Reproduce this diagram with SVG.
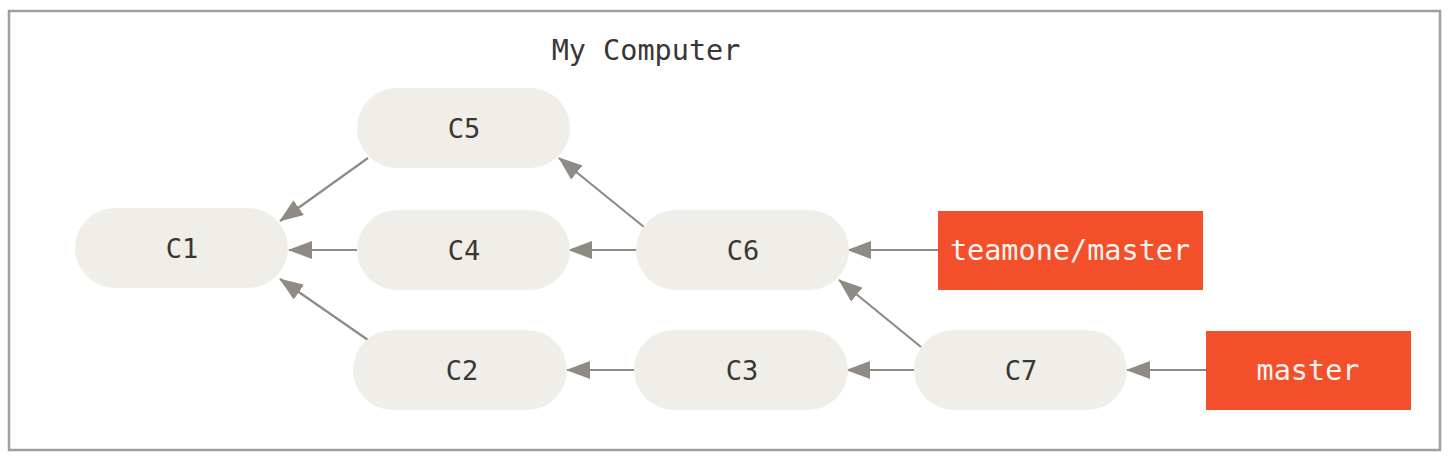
<svg xmlns="http://www.w3.org/2000/svg" width="1452" height="460" viewBox="0 0 1452 460">
<style>
.frame{fill:#ffffff;stroke:#a39e97;stroke-width:2.5}
.commit{fill:#efeee8}
.branch{fill:#f34f2b}
.t{font-family:"DejaVu Sans Mono","Liberation Mono",monospace;font-size:27px;text-anchor:middle;dominant-baseline:central}
.ct{fill:#3a3633}
.bt{fill:#f7f4ef;font-size:28.5px}
.title{font-family:"DejaVu Sans Mono","Liberation Mono",monospace;font-size:28.5px;fill:#3a3633;text-anchor:middle}
.edge{stroke:#8f8a84;stroke-width:2.2;fill:none;marker-end:url(#ah)}
</style>
<defs>
<marker id="ah" markerUnits="userSpaceOnUse" markerWidth="24" markerHeight="18" viewBox="0 0 24 18" refX="23" refY="9" orient="auto">
<path d="M0,0 L24,9 L0,18 z" fill="#8f8a84"/>
</marker>
</defs>
<rect class="frame" x="9" y="11" width="1431" height="439"/>
<text class="title" x="646" y="60">My Computer</text>
<g id="connectors">
<line class="edge" x1="368" y1="158" x2="280" y2="221"/>
<line class="edge" x1="357" y1="250" x2="289" y2="250"/>
<line class="edge" x1="368" y1="340" x2="280" y2="279"/>
<line class="edge" x1="644" y1="227" x2="559" y2="158"/>
<line class="edge" x1="636" y1="250" x2="569" y2="250"/>
<line class="edge" x1="938" y1="250" x2="848" y2="250"/>
<line class="edge" x1="921" y1="347" x2="839" y2="280"/>
<line class="edge" x1="634" y1="370" x2="567" y2="370"/>
<line class="edge" x1="914" y1="370" x2="847" y2="370"/>
<line class="edge" x1="1206" y1="370" x2="1127" y2="370"/>
</g>
<g id="C1"><rect class="commit" x="75" y="208" width="213" height="80" rx="40"/><text class="t ct" x="182" y="248">C1</text></g>
<g id="C5"><rect class="commit" x="357" y="88" width="213" height="80" rx="40"/><text class="t ct" x="464" y="128">C5</text></g>
<g id="C4"><rect class="commit" x="357" y="210" width="213" height="80" rx="40"/><text class="t ct" x="464" y="250">C4</text></g>
<g id="C6"><rect class="commit" x="636" y="210" width="213" height="80" rx="40"/><text class="t ct" x="743" y="250">C6</text></g>
<g id="C2"><rect class="commit" x="353" y="330" width="214" height="80" rx="40"/><text class="t ct" x="462" y="370">C2</text></g>
<g id="C3"><rect class="commit" x="634" y="330" width="214" height="80" rx="40"/><text class="t ct" x="742" y="370">C3</text></g>
<g id="C7"><rect class="commit" x="914" y="330" width="213" height="80" rx="40"/><text class="t ct" x="1021" y="370">C7</text></g>
<g id="teamone-master"><rect class="branch" x="938" y="211" width="265" height="79"/><text class="t bt" x="1070" y="250">teamone/master</text></g>
<g id="master"><rect class="branch" x="1206" y="331" width="205" height="79"/><text class="t bt" x="1308" y="370">master</text></g>
</svg>
